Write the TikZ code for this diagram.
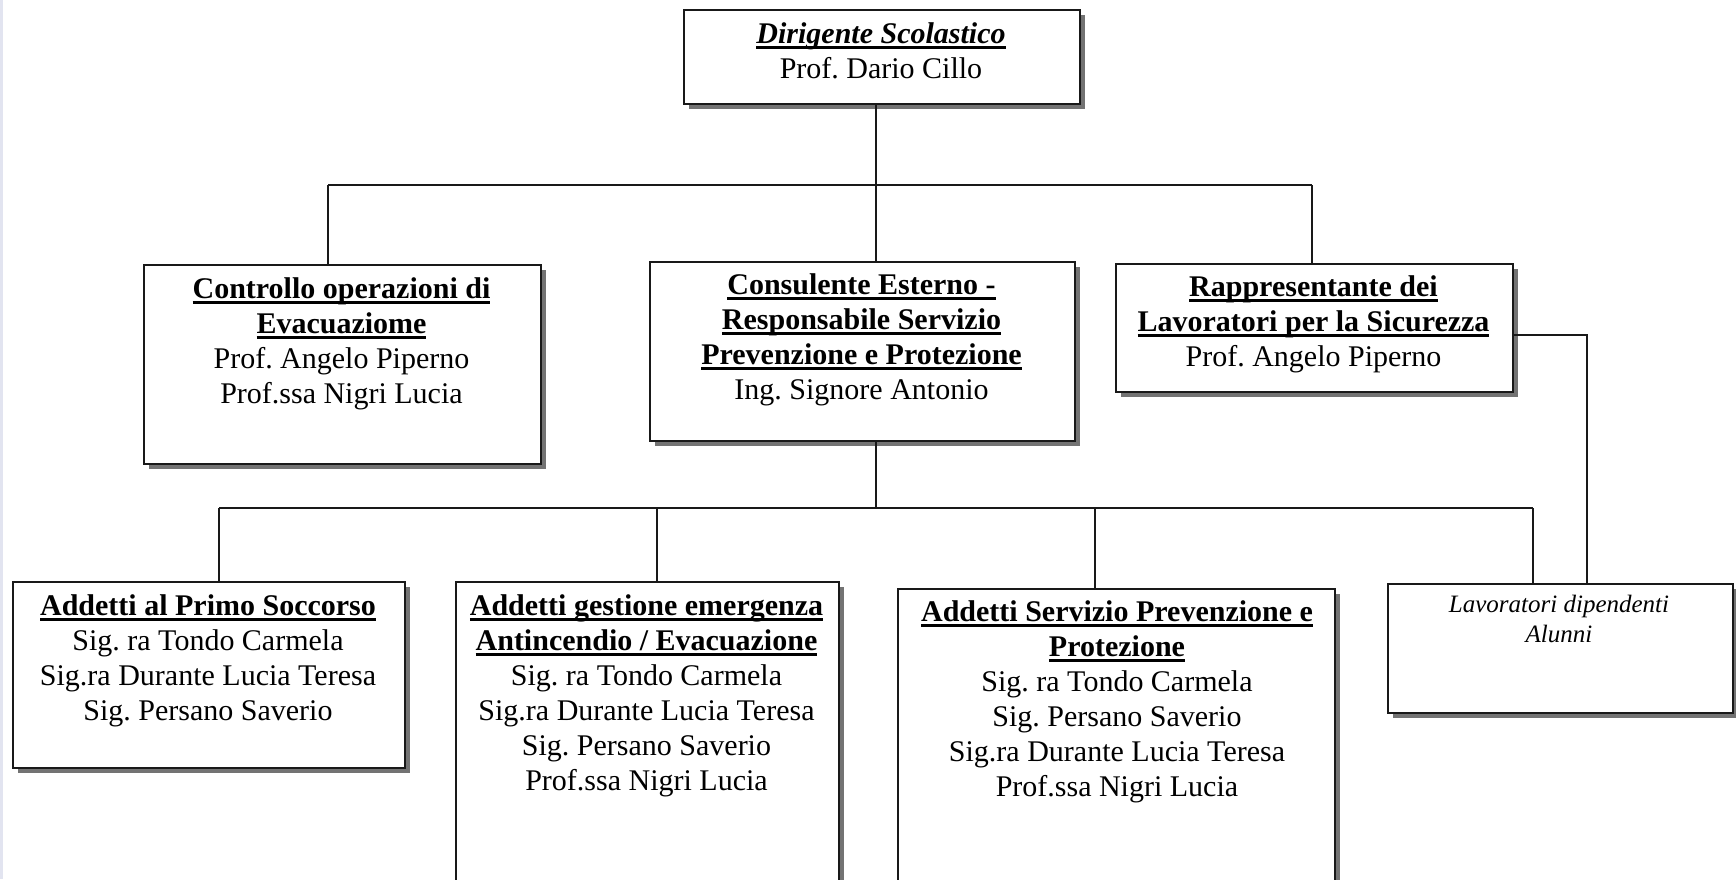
\documentclass[tikz,border=0pt]{standalone}
\usepackage{fontspec}
\setmainfont{Liberation Serif}
\usetikzlibrary{shadows}
\frenchspacing
\newsavebox\ulbox
\newcommand\uline[1]{\sbox\ulbox{#1}\rlap{\rule[-6pt]{\wd\ulbox}{2.6pt}}\usebox\ulbox}
\newcommand\boxtext[1]{\begin{tabular}[t]{@{}c@{}}#1\end{tabular}}
\definecolor{strip}{RGB}{226,228,240}
\definecolor{ink}{RGB}{25,25,25}
\tikzset{
  orgbox/.style={draw=ink, line width=1.8pt, fill=white, inner sep=0pt, anchor=north west,
    drop shadow={shadow xshift=5pt, shadow yshift=-5pt, fill=black!55, opacity=1}},
  txt/.style={inner sep=0pt, anchor=base, font=\fontsize{30}{35}\selectfont},
  smalltxt/.style={inner sep=0pt, anchor=base, font=\fontsize{25}{30}\selectfont\itshape},
  conn/.style={draw=ink, line width=1.6pt}
}
\begin{document}
\begin{tikzpicture}[x=1pt,y=-1pt]
\useasboundingbox (0,0) rectangle (1736,879);
\fill[white] (0,0) rectangle (1736,879);
\fill[strip] (0,0) rectangle (3,879);

% boxes
\node[orgbox, minimum width=396pt, minimum height=94pt] (top) at (683,9) {};
\node[orgbox, minimum width=397pt, minimum height=199pt] (ctrl) at (143,264) {};
\node[orgbox, minimum width=425pt, minimum height=179pt] (cons) at (649,261) {};
\node[orgbox, minimum width=397pt, minimum height=128pt] (rapp) at (1115,263) {};
\node[orgbox, minimum width=392pt, minimum height=186pt] (primo) at (12,581) {};
\node[orgbox, minimum width=383pt, minimum height=340pt] (antinc) at (455,581) {};
\node[orgbox, minimum width=437pt, minimum height=340pt] (serv) at (897,588) {};
\node[orgbox, line width=1.5pt, minimum width=345pt, minimum height=129pt] (lav) at (1387,583) {};

% texts
\node[txt] (ttop) at (881,43) {\boxtext{\uline{\textbf{\textit{Dirigente Scolastico}}}\\ Prof. Dario Cillo}};
\node[txt] (tctrl) at (341.5,298) {\boxtext{\uline{\textbf{Controllo operazioni di}}\\ \uline{\textbf{Evacuaziome}}\\ Prof. Angelo Piperno\\ Prof.ssa Nigri Lucia}};
\node[txt] (tcons) at (861.5,294) {\boxtext{\uline{\textbf{Consulente Esterno -}}\\ \uline{\textbf{Responsabile Servizio}}\\ \uline{\textbf{Prevenzione e Protezione}}\\ Ing. Signore Antonio}};
\node[txt] (trapp) at (1313.5,296) {\boxtext{\uline{\textbf{Rappresentante dei}}\\ \uline{\textbf{Lavoratori per la Sicurezza}}\\ Prof. Angelo Piperno}};
\node[txt] (tprimo) at (208,615) {\boxtext{\uline{\textbf{Addetti al Primo Soccorso}}\\ Sig. ra Tondo Carmela\\ Sig.ra Durante Lucia Teresa\\ Sig. Persano Saverio}};
\node[txt] (tantinc) at (646.5,615) {\boxtext{\uline{\textbf{Addetti gestione emergenza}}\\ \uline{\textbf{Antincendio / Evacuazione}}\\ Sig. ra Tondo Carmela\\ Sig.ra Durante Lucia Teresa\\ Sig. Persano Saverio\\ Prof.ssa Nigri Lucia}};
\node[txt] (tserv) at (1117,621) {\boxtext{\uline{\textbf{Addetti Servizio Prevenzione e}}\\ \uline{\textbf{Protezione}}\\ Sig. ra Tondo Carmela\\ Sig. Persano Saverio\\ Sig.ra Durante Lucia Teresa\\ Prof.ssa Nigri Lucia}};
\node[smalltxt] (tlav) at (1559,612) {\boxtext{Lavoratori dipendenti\\ Alunni}};

% connector points
\coordinate (b1c) at (876,185);
\coordinate (b1l) at (328,185);
\coordinate (b1r) at (1312,185);
\coordinate (b2c) at (876,508);
\coordinate (b2a) at (219,508);
\coordinate (b2b) at (657,508);
\coordinate (b2d) at (1095,508);
\coordinate (b2e) at (1533,508);
\coordinate (rl) at (1587,335);

% connectors
\draw[conn] (top.south -| b1c) -- (b1c);
\draw[conn] (b1l) -- (b1r);
\draw[conn] (b1l) -- (b1l |- ctrl.north);
\draw[conn] (b1c) -- (b1c |- cons.north);
\draw[conn] (b1r) -- (b1r |- rapp.north);
\draw[conn] (cons.south -| b2c) -- (b2c);
\draw[conn] (b2a) -- (b2e);
\draw[conn] (b2a) -- (b2a |- primo.north);
\draw[conn, line width=1.2pt] (b2b) -- (b2b |- antinc.north);
\draw[conn] (b2d) -- (b2d |- serv.north);
\draw[conn] (b2e) -- (b2e |- lav.north);
\draw[conn] (rapp.east |- rl) -- (rl) -- (rl |- lav.north);
\end{tikzpicture}
\end{document}
